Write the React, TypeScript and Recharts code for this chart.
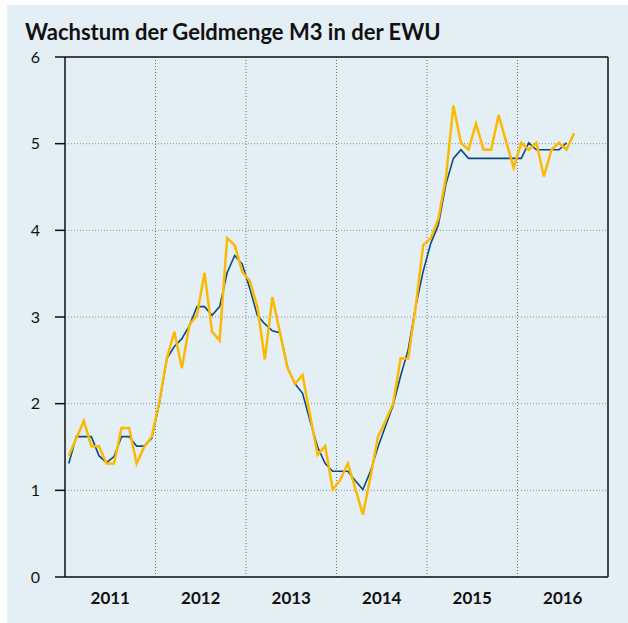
import { LineChart, Line, XAxis, YAxis, CartesianGrid, ReferenceLine } from "recharts";

// Monatswerte (Veränderung gegenüber Vorjahr in %), Jan 2011 bis Aug 2016
const monthly = [
  1.4, 1.6, 1.8, 1.51, 1.51, 1.31, 1.31, 1.72, 1.72, 1.31, 1.5, 1.62,
  2.02, 2.52, 2.83, 2.41, 2.91, 3.02, 3.51, 2.83, 2.73, 3.91, 3.83, 3.52,
  3.42, 3.12, 2.51, 3.23, 2.82, 2.41, 2.23, 2.33, 1.86, 1.41, 1.51, 1.01,
  1.12, 1.31, 1.02, 0.72, 1.15, 1.62, 1.8, 2.0, 2.52, 2.52, 3.12, 3.83,
  3.91, 4.13, 4.6, 5.44, 5.01, 4.93, 5.23, 4.93, 4.93, 5.33, 5.02, 4.72,
  5.01, 4.93, 5.01, 4.62, 4.93, 5.01, 4.93, 5.12,
];

// gleitender Dreimonatsdurchschnitt
const average = [
  1.31, 1.62, 1.62, 1.62, 1.4, 1.32, 1.39, 1.62, 1.62, 1.51, 1.51, 1.6,
  2.0, 2.52, 2.66, 2.75, 2.9, 3.12, 3.12, 3.02, 3.12, 3.51, 3.71, 3.61,
  3.33, 3.02, 2.92, 2.84, 2.82, 2.42, 2.23, 2.12, 1.8, 1.5, 1.31, 1.22,
  1.22, 1.22, 1.11, 1.01, 1.22, 1.5, 1.74, 1.98, 2.32, 2.62, 3.12, 3.53,
  3.85, 4.06, 4.53, 4.83, 4.93, 4.83, 4.83, 4.83, 4.83, 4.83, 4.83, 4.83,
  4.83, 5.01, 4.93, 4.93, 4.93, 4.93, 5.01,
];

const years = ["2011", "2012", "2013", "2014", "2015", "2016"];
const yTicks = [0, 1, 2, 3, 4, 5, 6];

const data = monthly.map((m, i) => ({ i, m, avg: average[i] }));
const yearCenters = years.map((_, k) => k * 12 + 5.5);
const yearBounds = years.slice(1).map((_, k) => (k + 1) * 12 - 0.5);

const FONT = "Lato, 'DejaVu Sans', sans-serif";

export default function App() {
  return (
    <div style={{ position: "absolute", left: 0, top: 0, width: 628, height: 623, background: "#fff" }}>
      <div style={{ position: "absolute", left: 7, top: 5, width: 621, height: 618, background: "#e4eef5" }} />
      <div
        style={{
          position: "absolute",
          left: 25,
          top: 19,
          fontFamily: FONT,
          fontWeight: 700,
          fontSize: 22,
          lineHeight: "26px",
          color: "#111",
          whiteSpace: "nowrap",
        }}
      >
        Wachstum der Geldmenge M3 in der EWU
      </div>
      <div style={{ position: "absolute", left: 0, top: 0 }}>
        <LineChart width={628} height={623} data={data} margin={{ top: 57, right: 20, bottom: 0, left: 0 }}>
          <CartesianGrid vertical={false} stroke="#8a8f96" strokeDasharray="1 2" />
          {yearBounds.map((x) => (
            <ReferenceLine key={x} x={x} stroke="#6b7078" strokeDasharray="1 2" />
          ))}
          <ReferenceLine y={6} stroke="#111" strokeWidth={1.5} />
          <ReferenceLine x={71.5} stroke="#111" strokeWidth={1.5} />
          <XAxis
            dataKey="i"
            type="number"
            domain={[-0.5, 71.5]}
            ticks={yearCenters}
            tickFormatter={(v: number) => years[Math.floor(v / 12)]}
            interval={0}
            height={46}
            tickLine={false}
            tickSize={0}
            tickMargin={15}
            axisLine={{ stroke: "#111", strokeWidth: 1.5 }}
            tick={{ fill: "#111", fontFamily: FONT, fontWeight: 700, fontSize: 17 }}
          />
          <YAxis
            domain={[0, 6]}
            ticks={yTicks}
            width={65}
            tickSize={10}
            tickMargin={15}
            interval={0}
            axisLine={{ stroke: "#111", strokeWidth: 1.5 }}
            tickLine={{ stroke: "#111", strokeWidth: 1.5 }}
            tick={{ fill: "#111", fontFamily: FONT, fontSize: 16 }}
          />
          <Line dataKey="avg" stroke="#0d4a7e" strokeWidth={1.6} dot={false} isAnimationActive={false} />
          <Line dataKey="m" stroke="#fbb900" strokeWidth={2.5} dot={false} isAnimationActive={false} />
        </LineChart>
      </div>
    </div>
  );
}
